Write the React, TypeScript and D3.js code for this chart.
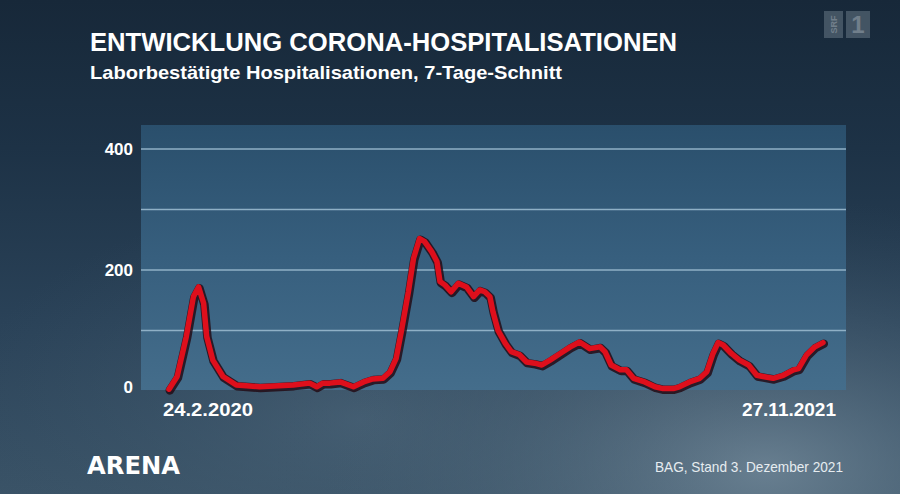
import React from "react";
import * as d3 from "d3";

const dates: string[] = [
  "2020-02-24","2020-03-03","2020-03-12","2020-03-19","2020-03-24","2020-03-29","2020-04-01","2020-04-07",
  "2020-04-17","2020-04-30","2020-05-23","2020-06-25","2020-07-11","2020-07-18","2020-07-24","2020-07-31",
  "2020-08-10","2020-08-23","2020-09-02","2020-09-11","2020-09-21","2020-09-28","2020-10-04","2020-10-09",
  "2020-10-16","2020-10-21","2020-10-27","2020-11-01","2020-11-08","2020-11-13","2020-11-16","2020-11-21",
  "2020-11-27","2020-12-04","2020-12-12","2020-12-19","2020-12-25","2020-12-30","2021-01-04","2021-01-07",
  "2021-01-12","2021-01-19","2021-01-25","2021-02-02","2021-02-09","2021-02-17","2021-02-24","2021-03-04",
  "2021-03-14","2021-03-24","2021-04-02","2021-04-12","2021-04-22","2021-04-27","2021-05-03","2021-05-12",
  "2021-05-18","2021-05-25","2021-06-05","2021-06-15","2021-06-23","2021-07-03","2021-07-09","2021-07-19",
  "2021-07-29","2021-08-05","2021-08-11","2021-08-16","2021-08-21","2021-08-29","2021-09-06","2021-09-15",
  "2021-09-23","2021-09-29","2021-10-09","2021-10-19","2021-10-29","2021-11-03","2021-11-11","2021-11-19",
  "2021-11-27",
];

const hospitalisations: number[] = [
  3, 24, 90, 156, 172, 145, 90, 51,
  24, 10, 7, 10, 13, 7, 13, 13,
  15, 7, 15, 20, 21, 32, 54, 98,
  164, 219, 252, 247, 230, 214, 181, 175,
  164, 178, 172, 156, 167, 164, 156, 131,
  100, 79, 65, 60, 48, 46, 43, 51,
  62, 73, 81, 70, 73, 65, 43, 35,
  35, 21, 15, 7, 4, 4, 7, 15,
  21, 32, 62, 80, 76, 62, 51, 43,
  26, 24, 21, 26, 35, 37, 60, 73,
  80,
];

const gridValues: number[] = [100, 200, 300, 400];
const yTickLabels: number[] = [0, 200, 400];
const xLabels: string[] = ["24.2.2020", "27.11.2021"];

const title = "ENTWICKLUNG CORONA-HOSPITALISATIONEN";
const subtitle = "Laborbestätigte Hospitalisationen, 7-Tage-Schnitt";
const source = "BAG, Stand 3. Dezember 2021";
const brand = "ARENA";

const W = 900;
const H = 494;
const panel = { x0: 141, x1: 846, y0: 125, y1: 390 };

export default function App() {
  const parse = d3.utcParse("%Y-%m-%d");
  const data = dates.map((d, i) => ({ date: parse(d) as Date, value: hospitalisations[i] }));

  const x = d3
    .scaleUtc()
    .domain(d3.extent(data, (d) => d.date) as [Date, Date])
    .range([169, 823]);
  const y = d3.scaleLinear().domain([0, 400]).range([391, 149]);

  const line = d3
    .line<{ date: Date; value: number }>()
    .x((d) => x(d.date))
    .y((d) => y(d.value))
    .curve(d3.curveLinear);
  const path = line(data) || "";

  const font = "'Liberation Sans', Arial, sans-serif";

  return (
    <svg
      width={W}
      height={H}
      viewBox={`0 0 ${W} ${H}`}
      style={{ position: "fixed", left: 0, top: 0 }}
    >
      <defs>
        <linearGradient id="bg" x1="0" y1="0" x2="0" y2="1">
          <stop offset="0" stopColor="#172839" />
          <stop offset="0.3" stopColor="#1d3246" />
          <stop offset="0.65" stopColor="#2a4258" />
          <stop offset="1" stopColor="#3a5367" />
        </linearGradient>
        <radialGradient id="cloud" cx="0.85" cy="0.95" r="0.55">
          <stop offset="0" stopColor="#7d93a3" stopOpacity="0.7" />
          <stop offset="0.5" stopColor="#5c7486" stopOpacity="0.35" />
          <stop offset="1" stopColor="#3a5367" stopOpacity="0" />
        </radialGradient>
        <radialGradient id="cloud2" cx="0.4" cy="0.85" r="0.45">
          <stop offset="0" stopColor="#4f697d" stopOpacity="0.6" />
          <stop offset="1" stopColor="#3a5367" stopOpacity="0" />
        </radialGradient>
        <linearGradient id="panelGrad" x1="0" y1="0" x2="0" y2="1">
          <stop offset="0" stopColor="#2a4f6c" />
          <stop offset="0.5" stopColor="#375f7e" />
          <stop offset="1" stopColor="#446d8b" />
        </linearGradient>
      </defs>

      <rect x={0} y={0} width={W} height={H} fill="url(#bg)" />
      <rect x={0} y={0} width={W} height={H} fill="url(#cloud2)" />
      <rect x={0} y={0} width={W} height={H} fill="url(#cloud)" />

      {/* SRF 1 logo */}
      <g opacity={0.5}>
        <rect x={824} y={11} width={19} height={27} fill="#6f7f8c" />
        <rect x={846} y={11} width={24} height={27} fill="#6f7f8c" />
        <text
          x={0}
          y={0}
          transform="translate(837,24.5) rotate(-90)"
          textAnchor="middle"
          fontFamily={font}
          fontWeight={700}
          fontSize={9}
          fill="#c9d3da"
        >
          SRF
        </text>
        <text x={858} y={33} textAnchor="middle" fontFamily={font} fontWeight={700} fontSize={24} fill="#c9d3da">
          1
        </text>
      </g>

      {/* Titles */}
      <text
        x={90}
        y={51}
        fontFamily={font}
        fontWeight={700}
        fontSize={25}
        fill="#ffffff"
        textLength={587}
        lengthAdjust="spacingAndGlyphs"
      >
        {title}
      </text>
      <text
        x={90}
        y={79}
        fontFamily={font}
        fontWeight={700}
        fontSize={19}
        fill="#ffffff"
        textLength={472}
        lengthAdjust="spacingAndGlyphs"
      >
        {subtitle}
      </text>

      {/* Panel */}
      <rect
        x={panel.x0}
        y={panel.y0}
        width={panel.x1 - panel.x0}
        height={panel.y1 - panel.y0}
        fill="url(#panelGrad)"
      />

      {/* Gridlines */}
      {gridValues.map((v) => (
        <line
          key={v}
          x1={panel.x0}
          x2={panel.x1}
          y1={y(v)}
          y2={y(v)}
          stroke="#8fb0c6"
          strokeWidth={1.6}
        />
      ))}

      {/* Y labels */}
      {yTickLabels.map((v) => (
        <text
          key={v}
          x={133}
          y={v === 0 ? y(v) - 4 : y(v)}
          dy="0.36em"
          textAnchor="end"
          fontFamily={font}
          fontWeight={700}
          fontSize={17}
          fill="#ffffff"
        >
          {v}
        </text>
      ))}

      {/* Line */}
      <path
        d={path}
        fill="none"
        stroke="#220810"
        strokeOpacity={0.8}
        strokeWidth={8.5}
        strokeLinejoin="round"
        strokeLinecap="round"
        transform="translate(0.8,1.2)"
      />
      <path
        d={path}
        fill="none"
        stroke="#de0f1c"
        strokeWidth={5.5}
        strokeLinejoin="round"
        strokeLinecap="round"
      />

      {/* X labels */}
      <text
        x={x(data[0].date) - 6}
        y={416}
        textAnchor="start"
        fontFamily={font}
        fontWeight={700}
        fontSize={19}
        fill="#ffffff"
        textLength={90}
        lengthAdjust="spacingAndGlyphs"
      >
        {xLabels[0]}
      </text>
      <text
        x={x(data[data.length - 1].date) + 13}
        y={416}
        textAnchor="end"
        fontFamily={font}
        fontWeight={700}
        fontSize={19}
        fill="#ffffff"
      >
        {xLabels[1]}
      </text>

      {/* Footer */}
      <text
        x={87}
        y={474}
        fontFamily="'DejaVu Sans', sans-serif"
        fontWeight={700}
        fontSize={25}
        fill="#ffffff"
        textLength={93}
        lengthAdjust="spacingAndGlyphs"
      >
        {brand}
      </text>
      <text
        x={843}
        y={472}
        textAnchor="end"
        fontFamily={font}
        fontSize={14.5}
        fill="#e6ecf0"
        textLength={188}
        lengthAdjust="spacingAndGlyphs"
      >
        {source}
      </text>
    </svg>
  );
}
